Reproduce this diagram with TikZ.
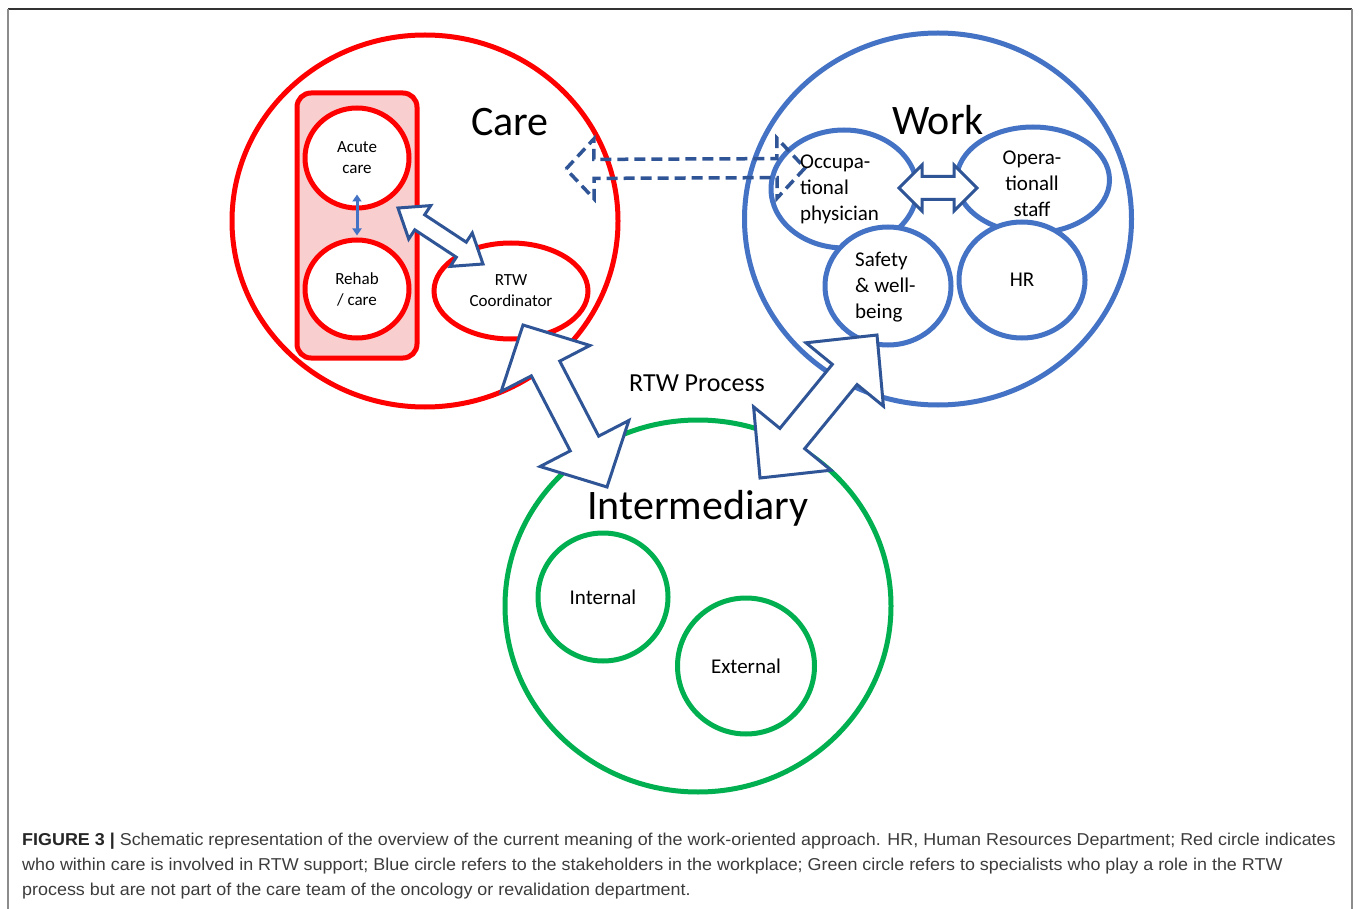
\documentclass[tikz,border=0pt]{standalone}
\usepackage{fontspec}
\setmainfont{Carlito}
\newfontfamily\capfont{Liberation Sans}
\usetikzlibrary{shapes.geometric,calc,arrows.meta}
\definecolor{cred}{HTML}{FF0000}
\definecolor{cblue}{HTML}{4472C4}
\definecolor{cgreen}{HTML}{00B050}
\definecolor{cdark}{HTML}{2F5597}
\definecolor{cpink}{HTML}{F8CECE}
\definecolor{capgray}{HTML}{3C3C3C}
\newcommand{\blockdbl}[6]{%
  \coordinate (bhA) at ($(#1)!#3!(#2)$);
  \coordinate (bhB) at ($(#2)!#3!(#1)$);
  \draw[#6] (#1) -- ($(bhA)!#4!90:(#2)$) -- ($(bhA)!#5!90:(#2)$)
    -- ($(bhB)!#5!90:(#2)$) -- ($(bhB)!#4!90:(#2)$) -- (#2)
    -- ($(bhB)!#4!-90:(#2)$) -- ($(bhB)!#5!-90:(#2)$)
    -- ($(bhA)!#5!-90:(#2)$) -- ($(bhA)!#4!-90:(#2)$) -- cycle;}
\newcommand{\capx}[1]{\scalebox{1.042}[1]{#1}}
\begin{document}
\begin{tikzpicture}[x=1pt,y=-1pt,
  oval/.style={ellipse, draw, line width=5pt, fill=white, inner sep=0pt},
  redoval/.style={oval, draw=cred},
  blueoval/.style={oval, draw=cblue},
  greenoval/.style={oval, draw=cgreen},
  blockarrow/.style={draw=cdark, fill=white, line width=3pt, line join=miter},
  dasharrow/.style={draw=cdark, line width=3.5pt, dash pattern=on 11pt off 6pt},
  small/.style={font=\fontsize{17}{21}\selectfont, align=center, inner sep=0pt},
  mid/.style={font=\fontsize{21}{26}\selectfont, inner sep=0pt},
  big/.style={font=\fontsize{42}{48}\selectfont, inner sep=0pt},
  capline/.style={font=\capfont\fontsize{17.2}{20}\selectfont, text=capgray, anchor=west, inner sep=0pt}]
\useasboundingbox (0,0) rectangle (1360,909);
% frame
\draw[line width=1.5pt, color=black!80] (8,9) -- (1352,9);
\draw[line width=1.5pt, color=black!45] (8,9) -- (8,909);
\draw[line width=1.5pt, color=black!45] (1352,9) -- (1352,909);
% Care
\node[redoval, minimum width=386, minimum height=372] (care) at (425,221) {};
\node[draw=cred, fill=cpink, line width=5pt, rounded corners=14pt, minimum width=120, minimum height=265, inner sep=0pt] (group) at (357,225.5) {};
\node[redoval, minimum width=104, minimum height=100] (acute) at (357,158) {};
\node[redoval, minimum width=104, minimum height=98] (rehab) at (357,289) {};
\node[redoval, minimum width=154, minimum height=96] (rtwc) at (511,291) {};
% Work
\node[blueoval, minimum width=387, minimum height=372] (work) at (938,219) {};
\node[blueoval, minimum width=146, minimum height=118] (occ) at (844,189) {};
\node[blueoval, minimum width=153, minimum height=106] (oper) at (1033,180) {};
\node[blueoval, minimum width=126, minimum height=118] (safe) at (888,286) {};
\node[blueoval, minimum width=126, minimum height=116] (hr) at (1022,280) {};
% Intermediary
\node[greenoval, minimum width=386, minimum height=372] (inter) at (698,606) {};
\node[greenoval, minimum width=130, minimum height=128] (internal) at (603,597) {};
\node[greenoval, minimum width=137, minimum height=136] (external) at (746,666) {};
% arrows
\draw[cblue, line width=3pt, {Triangle[width=9pt,length=7pt]}-{Triangle[width=9pt,length=7pt]}] (acute.south) ++(0,-16) coordinate (ta) (rehab.north) ++(0,-2) coordinate (tb) (ta) -- (tb);
\coordinate (ia1) at (398,208);
\coordinate (ia2) at (483,264);
\blockdbl{ia1}{ia2}{26pt}{20pt}{9pt}{blockarrow}
\coordinate (wa1) at (899,188);
\coordinate (wa2) at (977,188);
\blockdbl{wa1}{wa2}{23pt}{23pt}{11.5pt}{blockarrow}
\coordinate (da1) at (566,169);
\coordinate (da2) at (805,168);
\blockdbl{da1}{da2}{28pt}{30pt}{9.5pt}{dasharrow}
\coordinate (ca1) at (523,325);
\coordinate (ca2) at (607,487);
\blockdbl{ca1}{ca2}{49pt}{50pt}{16pt}{blockarrow}
\coordinate (wi1) at (877,335);
\coordinate (wi2) at (760,478);
\blockdbl{wi1}{wi2}{51pt}{50pt}{16pt}{blockarrow}
% texts
\node[big] (tcare) at (510,122) {Care};
\node[big] (twork) at (938,120) {Work};
\node[big] (tinter) at (698,508) {Intermediary};
\node[font=\fontsize{26}{30}\selectfont, inner sep=0pt] (tproc) at (697,383) {RTW Process};
\node[small] at (acute) {Acute\\care};
\node[small] at (rehab) {Rehab\\/ care};
\node[small] at (rtwc) {RTW\\Coordinator};
\node[mid, align=left, anchor=west] at (800,189) {Occupa-\\tional\\physician};
\node[mid, align=center] at (1032,184) {Opera-\\tionall\\staff};
\node[mid, align=left, anchor=west] at (855,287) {Safety\\\& well-\\being};
\node[mid] at (hr) {HR};
\node[mid] at (internal) {Internal};
\node[mid] at (external) {External};
% caption
\node[capline] (cap1) at (22,841) {\capx{\textbf{\color{black!85}FIGURE 3 |} Schematic representation of the overview of the current meaning of the work-oriented approach. HR, Human Resources Department; Red circle indicates}};
\node[capline] (cap2) at (22,866) {\capx{who within care is involved in RTW support; Blue circle refers to the stakeholders in the workplace; Green circle refers to specialists who play a role in the RTW}};
\node[capline] (cap3) at (22,891) {\capx{process but are not part of the care team of the oncology or revalidation department.}};
\end{tikzpicture}
\end{document}
